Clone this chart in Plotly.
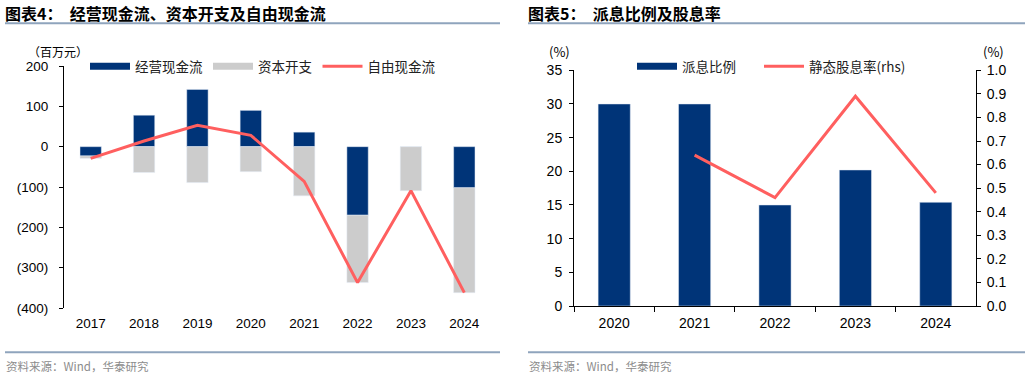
import plotly.graph_objects as go

# ---------------- data ----------------
years_l = ["2017", "2018", "2019", "2020", "2021", "2022", "2023", "2024"]
ocf = [-23, 78, 142, 90, 36, -170, 0, -102]          # 经营现金流
capex = [-6, -64, -89, -62, -122, -167, -109, -260]  # 资本开支
fcf = [-29, 14, 53, 28, -86, -337, -109, -362]       # 自由现金流
ytick_vals_l = [200, 100, 0, -100, -200, -300, -400]
ytick_text_l = ["200", "100", "0", "(100)", "(200)", "(300)", "(400)"]

years_r = ["2020", "2021", "2022", "2023", "2024"]
payout = [30, 30, 15, 20.2, 15.4]                    # 派息比例 (%)
yield_rhs = [None, 0.64, 0.46, 0.89, 0.48]           # 静态股息率 (%)

# ---------------- styles ----------------
W, H = 1030, 377
BLUE = "#003478"
GREY = "#cccccc"
RED = "#ff5f5f"
NUM_FONT = "Arial, Liberation Sans, sans-serif"
CJK_FONT = "Noto Sans CJK SC, sans-serif"

def px(x):
    return x / W

def py(y):
    return 1 - y / H

yl_dom = [py(308), py(66)]
yr_dom = [py(306), py(70.3)]

fig = go.Figure()

# left panel
fig.add_trace(go.Bar(x=years_l, y=ocf, marker_color=BLUE, showlegend=False,
                     xaxis="x", yaxis="y"))
fig.add_trace(go.Bar(x=years_l, y=capex, marker_color=GREY, showlegend=False,
                     xaxis="x", yaxis="y"))
fig.add_trace(go.Scatter(x=years_l, y=fcf, mode="lines", line=dict(color=RED, width=3),
                         showlegend=False, xaxis="x", yaxis="y"))
# legend entries (left)
fig.add_trace(go.Scatter(x=[None], y=[None], mode="lines", name="经营现金流",
                         line=dict(color=BLUE, width=7), legend="legend", xaxis="x", yaxis="y"))
fig.add_trace(go.Scatter(x=[None], y=[None], mode="lines", name="资本开支",
                         line=dict(color=GREY, width=7), legend="legend", xaxis="x", yaxis="y"))
fig.add_trace(go.Scatter(x=[None], y=[None], mode="lines", name="自由现金流",
                         line=dict(color=RED, width=3), legend="legend", xaxis="x", yaxis="y"))

# right panel
fig.add_trace(go.Bar(x=years_r, y=payout, marker_color=BLUE, showlegend=False,
                     xaxis="x2", yaxis="y2", width=0.4))
fig.add_trace(go.Scatter(x=years_r, y=yield_rhs, mode="lines", showlegend=False,
                         line=dict(color=RED, width=3), xaxis="x2", yaxis="y4",
                         connectgaps=False))
fig.add_trace(go.Scatter(x=[None], y=[None], mode="lines", name="派息比例",
                         line=dict(color=BLUE, width=7), legend="legend2", xaxis="x2", yaxis="y2"))
fig.add_trace(go.Scatter(x=[None], y=[None], mode="lines", name="静态股息率(rhs)",
                         line=dict(color=RED, width=3), legend="legend3", xaxis="x2", yaxis="y2"))

n_l = len(years_l)
boundaries_l = [i - 0.5 for i in range(n_l + 1)]
zero_pos = yl_dom[0] + (0 - (-400)) / 600 * (yl_dom[1] - yl_dom[0])

def tf(size):
    return dict(family=NUM_FONT, size=size, color="#000000")

def leg(x):
    return dict(orientation="h", x=px(x), y=py(66.5), xanchor="left", yanchor="middle",
                font=dict(family=CJK_FONT, size=13.5, color="#222222"),
                bgcolor="rgba(0,0,0,0)", itemwidth=40, traceorder="normal")

axis_common = dict(showgrid=False, linecolor="#000000", linewidth=1, tickcolor="#000000")

fig.update_layout(
    width=W, height=H, margin=dict(l=0, r=0, t=0, b=0, autoexpand=False),
    paper_bgcolor="white", plot_bgcolor="white",
    barmode="relative", bargap=0.6,
    xaxis=dict(domain=[px(64), px(491)], anchor="y", type="category",
               range=[-0.5, n_l - 0.5], showline=False, ticks="",
               showgrid=False, tickfont=tf(13.5), automargin=False, ticklabelstandoff=5),
    xaxis3=dict(overlaying="x", anchor="free", position=zero_pos, range=[-0.5, n_l - 0.5],
                tickmode="array", tickvals=boundaries_l, showticklabels=False,
                ticks="outside", ticklen=5, showline=True, linecolor="#000000",
                tickcolor="#000000", showgrid=False, zeroline=False),
    yaxis=dict(domain=yl_dom, anchor="x", range=[-400, 200], tickmode="array",
               tickvals=ytick_vals_l, ticktext=ytick_text_l, showline=True,
               ticks="outside", ticklen=4, zeroline=False, tickfont=tf(13.5),
               automargin=False, ticklabelstandoff=8, **axis_common),
    xaxis2=dict(domain=[px(574), px(976)], anchor="y2", type="category",
                showline=True, ticks="outside", tickson="boundaries", ticklen=5,
                range=[-0.5, len(years_r) - 0.5], tickfont=tf(14), automargin=False,
                ticklabelstandoff=4, **axis_common),
    yaxis2=dict(domain=yr_dom, anchor="x2", range=[0, 35], dtick=5, showline=True,
                ticks="outside", ticklen=4, zeroline=False, tickfont=tf(14),
                automargin=False, ticklabelstandoff=4, **axis_common),
    yaxis4=dict(domain=yr_dom, anchor="x2", overlaying="y2", side="right", range=[0, 1],
                dtick=0.1, tickformat=".1f", showline=True, ticks="outside", ticklen=4,
                zeroline=False, tickfont=tf(14), automargin=False, ticklabelstandoff=3,
                **axis_common),
    legend=leg(85),
    legend2=leg(632),
    legend3=leg(759),
)

# Titles, unit labels, separators, sources
TITLE_LINE = "#8fa4bd"
annos = [
    dict(x=3, y=13, text="<b>图表4：  经营现金流、资本开支及自由现金流</b>", size=16, color="#000000"),
    dict(x=526, y=13, text="<b>图表5：  派息比例及股息率</b>", size=16, color="#000000"),
    dict(x=26, y=51, text="（百万元）", size=12, color="#000000"),
    dict(x=547, y=51, text="(%)", size=13, color="#000000"),
    dict(x=981, y=51, text="(%)", size=13, color="#000000"),
    dict(x=4, y=365.5, text="资料来源：Wind，华泰研究", size=11.5, color="#8c8c8c"),
    dict(x=527, y=365.5, text="资料来源：Wind，华泰研究", size=11.5, color="#8c8c8c"),
]
for a in annos:
    fig.add_annotation(x=px(a["x"]), y=py(a["y"]), xref="paper", yref="paper", text=a["text"],
                       showarrow=False, xanchor="left", yanchor="middle",
                       font=dict(family=CJK_FONT, size=a["size"], color=a["color"]))

for (x0, x1, y) in [(5, 500, 23.3), (528, 1025, 23.3), (5, 500, 352.3), (528, 1025, 352.3)]:
    fig.add_shape(type="line", xref="paper", yref="paper", x0=px(x0), x1=px(x1),
                  y0=py(y), y1=py(y), line=dict(color=TITLE_LINE, width=2))

fig.write_html("out.html", config={"displayModeBar": False},
               post_script="document.body.style.margin='0';")
